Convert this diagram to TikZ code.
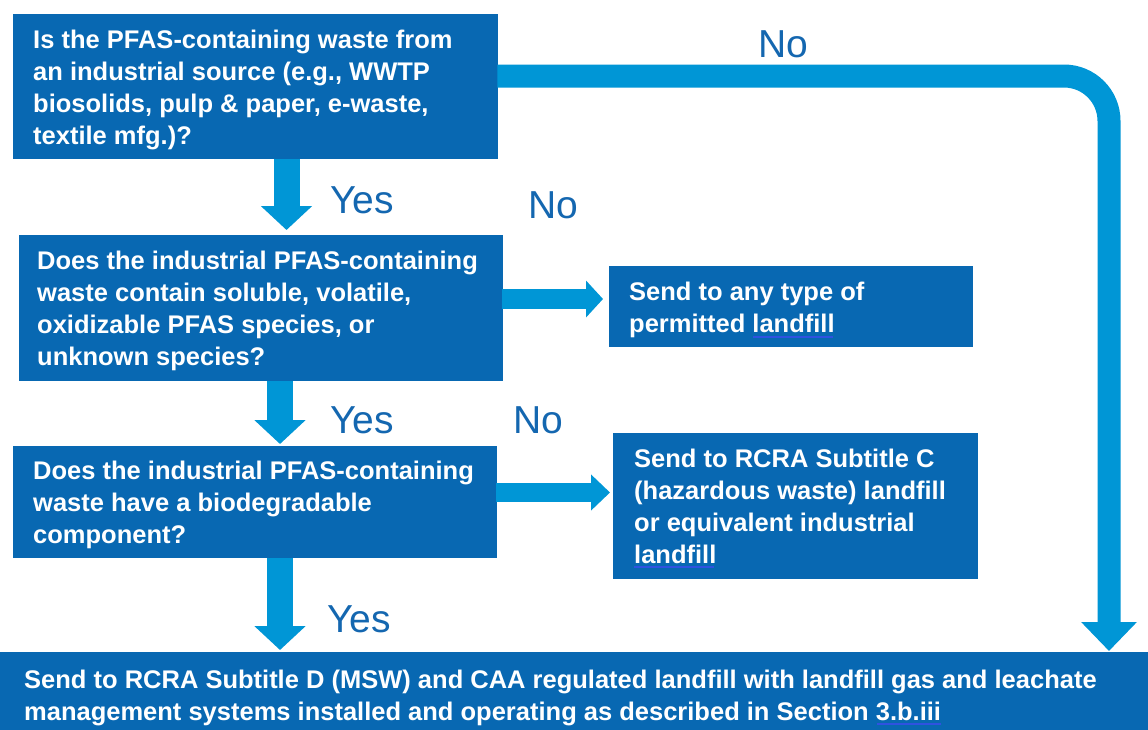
\documentclass[tikz,border=0pt]{standalone}
\usepackage{fontspec}
\setmainfont{Liberation Sans}
\usetikzlibrary{arrows.meta}
\definecolor{boxblue}{HTML}{0868B2}
\definecolor{arrblue}{HTML}{0096D6}
\definecolor{lblblue}{HTML}{1467B0}
\definecolor{ulblue}{HTML}{2F52E0}
\newcommand\boxtext[3]{\makebox[#1][l]{\hspace*{#2}\raisebox{-3pt}[\height][\depth]{\begin{tabular}{@{}l@{}}#3\end{tabular}}}}
\begin{document}
\begin{tikzpicture}[x=1pt,y=-1pt,
  box/.style={fill=boxblue,text=white,anchor=north west,inner sep=0pt,
    font=\bfseries\fontsize{25.5}{32}\selectfont},
  lbl/.style={text=lblblue,anchor=base west,inner sep=0pt,
    font=\fontsize{39}{39}\selectfont},
  varrow/.style={draw=arrblue,line width=26pt,
    -{Triangle[width=50pt,length=24pt]}},
  bigarrow/.style={draw=arrblue,line width=23pt,rounded corners=45pt,
    -{Triangle[width=54pt,length=29pt]}},
  harrow/.style={draw=arrblue,line width=20pt,
    -{Triangle[width=36pt,length=17pt]}},
  spell/.style={draw=ulblue,line width=1.6pt}
]
\useasboundingbox (0,0) rectangle (1148,729);
\clip (0,0) rectangle (1148,729);
\fill[white] (0,0) rectangle (1148,729);

% boxes
\node[box,minimum height=145pt] (q1) at (13,14)
  {\boxtext{485pt}{20pt}{Is the PFAS-containing waste from\\an industrial source (e.g., WWTP\\biosolids, pulp \& paper, e-waste,\\textile mfg.)?}};
\node[box,minimum height=146pt] (q2) at (19,235)
  {\boxtext{484pt}{18pt}{Does the industrial PFAS-containing\\waste contain soluble, volatile,\\oxidizable PFAS species, or\\unknown species?}};
\node[box,minimum height=112pt] (q3) at (13,446)
  {\boxtext{484pt}{20pt}{Does the industrial PFAS-containing\\waste have a biodegradable\\component?}};
\node[box,minimum height=81pt] (a1) at (609,266)
  {\boxtext{364pt}{20pt}{Send to any type of\\permitted landfill}};
\node[box,minimum height=146pt] (a2) at (613,433)
  {\boxtext{365pt}{21pt}{Send to RCRA Subtitle C\\(hazardous waste) landfill\\or equivalent industrial\\landfill}};
\node[box,minimum height=86pt] (fin) at (0,652)
  {\boxtext{1148pt}{24pt}{Send to RCRA Subtitle D (MSW) and CAA regulated landfill with landfill gas and leachate\\management systems installed and operating as described in Section 3.b.iii}};

% spell-check underlines
\draw[spell] (753,337) -- (833,337);
\draw[spell] (634,567) -- (714,567);
\draw[spell] (877,724) -- (941,724);

% connectors
\coordinate (c1) at (286.5,0);
\coordinate (c2) at (280,0);
\coordinate (rx) at (1109,0);
\coordinate (ry) at (0,76);
\coordinate (ha) at (0,299);
\coordinate (hb) at (0,492.5);

\draw[varrow] (c1 |- q1.south) -- ([yshift=5pt]c1 |- q2.north);
\draw[varrow] (c2 |- q2.south) -- ([yshift=2pt]c2 |- q3.north);
\draw[varrow] (c2 |- q3.south) -- ([yshift=2pt]c2 |- fin.north);
\draw[bigarrow] ([xshift=-1pt]q1.east |- ry) -- (rx |- ry) -- ([yshift=1pt]rx |- fin.north);
\draw[harrow] ([xshift=-1pt]q2.east |- ha) -- ([xshift=-6pt]a1.west |- ha);
\draw[harrow,line width=19pt,-{Triangle[width=35pt,length=19pt]}] ([xshift=-1pt]q3.east |- hb) -- ([xshift=-3pt]a2.west |- hb);

% labels
\node[lbl] (y1) at (330,213) {Yes};
\node[lbl] (y2) at (330,433) {Yes};
\node[lbl] (y3) at (327,632) {Yes};
\node[lbl] (n1) at (758,57) {No};
\node[lbl] (n2) at (528,218) {No};
\node[lbl] (n3) at (513,433) {No};
\end{tikzpicture}
\end{document}
